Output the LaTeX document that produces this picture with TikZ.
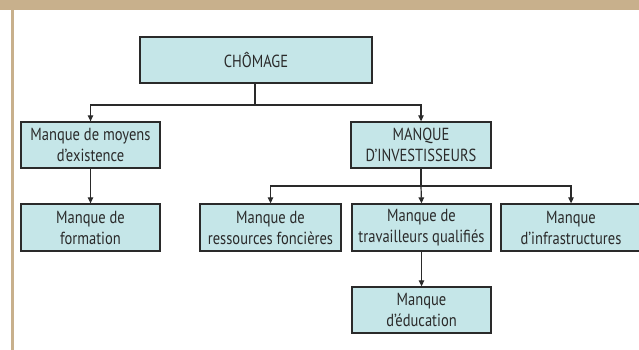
\documentclass[tikz,border=0pt]{standalone}
\usepackage{fontspec}
\setmainfont[FakeStretch=0.83]{PT Sans}
\usetikzlibrary{arrows.meta}
\definecolor{tan}{HTML}{C8B08C}
\definecolor{boxfill}{HTML}{C5E6E8}
\definecolor{ink}{HTML}{2A2A2A}
\tikzset{
  box/.style={draw=ink, line width=1.3pt, fill=boxfill, text=ink,
    minimum height=46pt, inner sep=0pt, align=center,
    font=\fontsize{17.5}{21}\selectfont},
  link/.style={draw=ink, line width=1.2pt},
  arr/.style={link, -{Triangle[length=6pt,width=5.5pt]}}
}
\begin{document}
\begin{tikzpicture}[x=1pt,y=-1pt]
\useasboundingbox (0,0) rectangle (639,350);
\fill[white] (0,0) rectangle (639,350);
\fill[tan] (0,0) rectangle (639,10);
\fill[tan] (11,10) rectangle (13.5,350);
\node[box, minimum width=232pt] (chom) at (256,60) {CHÔMAGE};
\node[box, minimum width=139pt] (exist) at (90.5,145) {Manque de moyens\\d’existence};
\node[box, minimum width=140pt] (invest) at (421,145) {MANQUE\\D’INVESTISSEURS};
\node[box, minimum width=139pt, minimum height=47pt] (form) at (90.5,227.5) {Manque de\\formation};
\node[box, minimum width=141pt, minimum height=47pt] (fonc) at (270.5,227.5) {Manque de\\ressources foncières};
\node[box, minimum width=139pt, minimum height=47pt] (trav) at (421.5,227.5) {Manque de\\travailleurs qualifiés};
\node[box, minimum width=140pt, minimum height=47pt] (infra) at (571,227.5) {Manque\\d’infrastructures};
\node[box, minimum width=139pt] (educ) at (421.5,310) {Manque\\d’éducation};
\coordinate (j1) at (255,105);
\coordinate (j2) at (421,186);
\draw[link] (chom.south -| j1) -- (j1);
\draw[arr] (j1) -| (exist.north);
\draw[arr] (j1) -| (invest.north);
\draw[arr] (exist.south) -- (form.north);
\draw[link] (invest.south) -- (j2);
\draw[arr] (j2) -| (fonc.north);
\draw[arr] (j2) -- (trav.north);
\draw[arr] (j2) -| (infra.north);
\draw[arr] (trav.south) -- (educ.north);
\end{tikzpicture}
\end{document}
